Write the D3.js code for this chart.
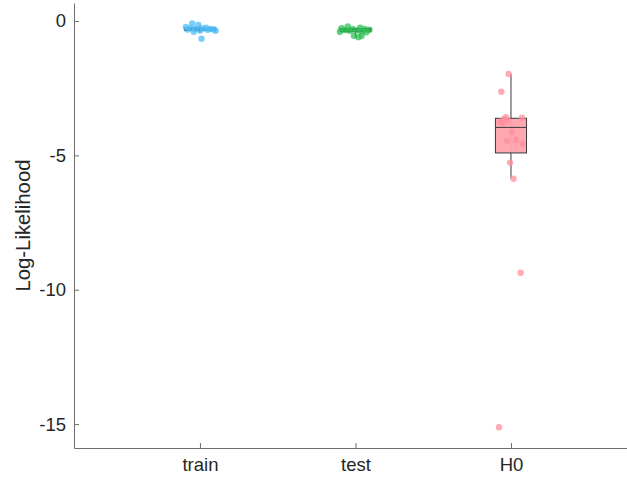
<!DOCTYPE html>
<html><head><meta charset="utf-8">
<script src="https://cdn.jsdelivr.net/npm/d3@7"></script>
<style>body{margin:0;background:#fff}svg{display:block}</style>
</head><body>
<svg id="c" width="627" height="478"></svg>
<script>
const categories = ["train", "test", "H0"];
const yTicks = [0, -5, -10, -15];
const yLabel = "Log-Likelihood";

// observed values per group (log-likelihood)
const trainValues = [-0.09, -0.15, -0.22, -0.25, -0.27, -0.28, -0.30, -0.30, -0.31, -0.32, -0.33, -0.35, -0.36, -0.40, -0.66];
const testValues  = [-0.20, -0.25, -0.27, -0.30, -0.30, -0.32, -0.33, -0.35, -0.36, -0.38, -0.40, -0.42, -0.55, -0.55, -0.60];
const h0Values    = [-1.97, -2.63, -3.58, -3.60, -3.65, -3.70, -3.75, -3.80, -4.12, -4.42, -4.45, -4.57, -5.27, -5.87, -9.37, -15.12];
// horizontal jitter of each point (in category units)
const trainJitter = [-0.05, -0.01, -0.09, 0.04, -0.06, 0.02, -0.03, 0.07, 0.09, -0.08, 0.05, 0.00, 0.10, -0.04, 0.01];
const testJitter  = [-0.05, 0.03, -0.09, 0.06, -0.02, 0.09, -0.07, 0.01, -0.04, 0.04, -0.10, 0.07, -0.01, 0.04, 0.02];
const h0Jitter    = [-0.015, -0.062, -0.032, 0.071, -0.045, -0.019, -0.071, -0.055, 0.006, 0.032, -0.024, 0.074, -0.006, 0.016, 0.062, -0.077];

// box statistics
const whiskerHigh = [-0.15, -0.25, -1.97];
const upperQ      = [-0.26, -0.28, -3.62];
const medians     = [-0.30, -0.33, -3.96];
const lowerQ      = [-0.35, -0.40, -4.91];
const whiskerLow  = [-0.45, -0.62, -5.85];

const pointColors = ["#4dbdf7", "#2fbf55", "#ff8f9b"];
const boxColors   = ["#2b8fe0", "#27a84a", "#ffa3ac"];

const groups = categories.map((c, i) => ({
  name: c, pos: i + 1,
  values: [trainValues, testValues, h0Values][i],
  jitter: [trainJitter, testJitter, h0Jitter][i],
  hi: whiskerHigh[i], q1: upperQ[i], med: medians[i], q3: lowerQ[i], lo: whiskerLow[i],
  pc: pointColors[i], bc: boxColors[i]
}));

const svg = d3.select("#c");
const x = d3.scaleLinear().domain([0.19, 3.75]).range([74, 627.6]);
const y = d3.scaleLinear().domain([-15.89, 0.67]).range([448, 3]);
const boxW = 0.2;
const font = "'Liberation Sans', Arial, Helvetica, sans-serif";
const axisColor = "#6e6e6e";

const g = svg.append("g");
groups.forEach(d => {
  const gg = g.append("g");
  gg.append("line").attr("x1", x(d.pos)).attr("x2", x(d.pos))
    .attr("y1", y(d.hi)).attr("y2", y(d.lo))
    .attr("stroke", "#3a3a3a").attr("stroke-width", 1);
  gg.append("rect")
    .attr("x", x(d.pos - boxW / 2)).attr("width", x(d.pos + boxW / 2) - x(d.pos - boxW / 2))
    .attr("y", y(d.q1)).attr("height", Math.max(1, y(d.q3) - y(d.q1)))
    .attr("fill", d.bc).attr("fill-opacity", 0.95)
    .attr("stroke", "#3a3a3a").attr("stroke-width", 1);
  gg.append("line")
    .attr("x1", x(d.pos - boxW / 2)).attr("x2", x(d.pos + boxW / 2))
    .attr("y1", y(d.med)).attr("y2", y(d.med))
    .attr("stroke", "#3a3a3a").attr("stroke-width", 1);
  gg.selectAll("circle").data(d.values).join("circle")
    .attr("cx", (v, j) => x(d.pos + d.jitter[j]))
    .attr("cy", v => y(v))
    .attr("r", 3.2)
    .attr("fill", d.pc).attr("fill-opacity", 0.75);
});

// y axis
const ya = svg.append("g").attr("transform", "translate(74,0)")
  .call(d3.axisLeft(y).tickValues(yTicks).tickSize(-5).tickSizeOuter(0).tickPadding(8).tickFormat(v => String(v)));
ya.select(".domain").attr("stroke", axisColor);
ya.selectAll(".tick line").attr("stroke", axisColor);
ya.selectAll(".tick text").attr("fill", "#262626").style("font-family", font).style("font-size", "18.5px");

// x axis
const xa = svg.append("g").attr("transform", "translate(0,448)")
  .call(d3.axisBottom(x).tickValues([1, 2, 3]).tickSize(-5).tickSizeOuter(0).tickPadding(10)
    .tickFormat(v => categories[v - 1]));
xa.select(".domain").attr("stroke", axisColor);
xa.selectAll(".tick line").attr("stroke", axisColor);
xa.selectAll(".tick text").attr("fill", "#262626").style("font-family", font).style("font-size", "18.5px");

svg.append("text")
  .attr("transform", `translate(30,${(y.range()[0] + y.range()[1]) / 2}) rotate(-90)`)
  .attr("text-anchor", "middle")
  .attr("fill", "#262626").style("font-family", font).style("font-size", "20.3px")
  .text(yLabel);
</script>
</body></html>
